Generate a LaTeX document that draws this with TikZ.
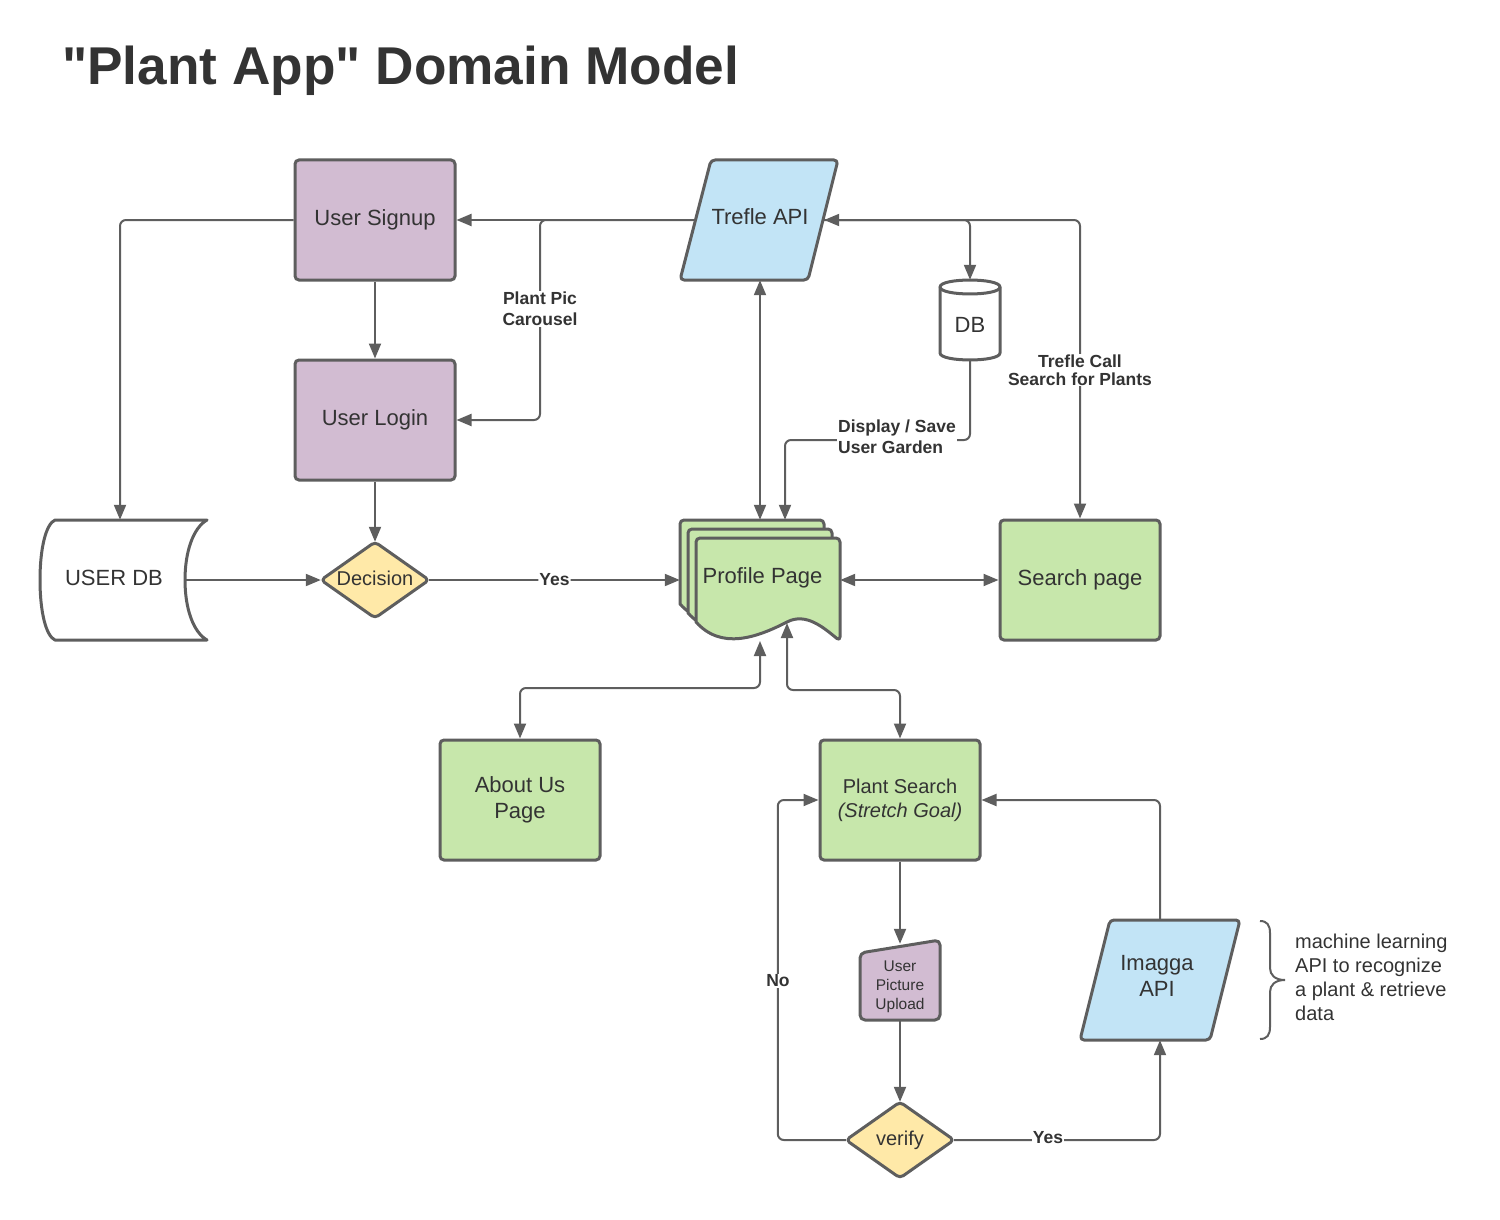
\documentclass[tikz,border=0pt]{standalone}
\usepackage{fontspec}
\setmainfont{Liberation Sans}
\usetikzlibrary{arrows.meta,calc}
\definecolor{edge}{HTML}{5E5E5E}
\definecolor{ink}{HTML}{333333}
\definecolor{purp}{HTML}{D2BCD2}
\definecolor{blu}{HTML}{C2E4F6}
\definecolor{grn}{HTML}{C7E7AB}
\definecolor{yel}{HTML}{FFE9A8}
\newcommand\straightquote{\XeTeXglyph\XeTeXcharglyph"22\relax}
\newcommand\nudge[2]{\raisebox{#1}[\height][\depth]{#2}}
\newcommand\docsheet[2]{%
  \path[shapeline,fill=grn] (#1,#2+84) -- (#1,#2) -- (#1+144,#2) -- (#1+144,#2+103)
   [rounded corners=0pt] .. controls (#1+128,#2+90) and (#1+110,#2+74) .. (#1+91,#2+84)
   .. controls (#1+60,#2+100) and (#1+25,#2+112) .. (#1,#2+84) -- cycle;}
\begin{document}
\begin{tikzpicture}[x=1pt,y=-1pt,
  box/.style={draw=edge,line width=3pt,rounded corners=4pt,minimum width=160pt,minimum height=120pt,inner sep=0pt,align=center,text=ink,font=\fontsize{22}{26}\selectfont},
  anchorbox/.style={inner sep=0pt,align=center,text=ink,font=\fontsize{22}{26}\selectfont},
  shapeline/.style={draw=edge,line width=3pt,rounded corners=4pt,line join=round},
  conn/.style={draw=edge,line width=2pt,rounded corners=6pt,-{Triangle[length=15pt,width=12pt]}},
  conn2/.style={draw=edge,line width=2pt,rounded corners=6pt,{Triangle[length=15pt,width=12pt]}-{Triangle[length=15pt,width=12pt]}},
  lbl/.style={fill=white,inner sep=1pt,text=ink,font=\bfseries\fontsize{17.5}{21}\selectfont,align=center},
]
\useasboundingbox (0,0) rectangle (1500,1220);

% title
\node[anchor=base west,inner sep=0pt,text=ink,font=\bfseries\fontsize{53.2}{60}\selectfont] (title) at (62,85) {\straightquote Plant App\straightquote{} Domain Model};

% custom shape outlines
\path[shapeline,fill=blu] (711,160) -- (838,160) -- (808,280) -- (680,280) -- cycle;
\path[shapeline,fill=blu] (1110,920) -- (1240,920) -- (1210,1040) -- (1080,1040) -- cycle;
\path[shapeline,fill=purp,rounded corners=5pt] (860,953) -- (940,940) -- (940,1020) -- (860,1020) -- cycle;
\path[shapeline,fill=yel] (321,580) -- (375,542) -- (429,580) -- (375,618) -- cycle;
\path[shapeline,fill=yel] (846,1140) -- (900,1102) -- (954,1140) -- (900,1178) -- cycle;
\path[shapeline,fill=white,rounded corners=0pt] (55,520) -- (207,520)
  .. controls (193,528) and (185,552) .. (185,580)
  .. controls (185,608) and (193,632) .. (207,640) -- (55,640)
  .. controls (46,636) and (40,612) .. (40,580)
  .. controls (40,548) and (46,524) .. (55,520) -- cycle;
\path[shapeline,fill=white,rounded corners=0pt] (940,287) -- (940,353)
  .. controls (940,362.3) and (1000,362.3) .. (1000,353) -- (1000,287)
  .. controls (1000,277.7) and (940,277.7) .. (940,287) -- cycle;
\path[shapeline,rounded corners=0pt] (940,287) .. controls (940,296.3) and (1000,296.3) .. (1000,287);
\docsheet{680}{520}
\docsheet{688}{529}
\docsheet{696}{538}

% nodes
\node[box,fill=purp] (signup) at (375,220) {User Signup};
\node[box,fill=purp] (login) at (375,420) {User Login};
\node[anchorbox,minimum width=128pt,minimum height=120pt] (trefle) at (760,220) {\nudge{3pt}{Trefle API}};
\node[anchorbox,minimum width=60pt,minimum height=80pt] (db) at (970,320) {\nudge{-5pt}{DB}};
\node[anchorbox,minimum width=130pt,minimum height=120pt] (usrdb) at (120,580) {\nudge{2pt}{\hspace*{-12pt}USER DB}};
\node[anchorbox,font=\fontsize{20}{24}\selectfont,minimum width=108pt,minimum height=76pt] (dec) at (375,580) {\nudge{2pt}{Decision}};
\node[anchorbox,minimum width=160pt,minimum height=120pt] (prof) at (760,580) {\nudge{2pt}{\hspace*{5pt}Profile Page}};
\node[box,fill=grn] (search) at (1080,580) {Search page};
\node[box,fill=grn] (about) at (520,800) {About Us\\Page};
\node[box,fill=grn,font=\fontsize{20}{24}\selectfont] (ps) at (900,800) {Plant Search\\\textit{(Stretch Goal)}};
\node[anchorbox,minimum width=80pt,minimum height=76pt] (upl) at (900,982) {};
\node[anchorbox,font=\fontsize{15.5}{19}\selectfont] (upltxt) at (900,987) {User\\Picture\\Upload};
\node[anchorbox,font=\fontsize{20}{24}\selectfont,minimum width=108pt,minimum height=76pt] (ver) at (900,1140) {verify};
\node[anchorbox,minimum width=130pt,minimum height=120pt] (imagga) at (1160,980) {};
\node[anchorbox] (imaggatxt) at (1157,976) {Imagga\\API};

% helper coordinates
\coordinate (pb1) at (760,641);
\coordinate (pb2) at (787,623);
\coordinate (cj1) at (540,220);
\coordinate (k1) at (785,440);

% connectors
\draw[conn] (signup.west) -| (usrdb.north);
\draw[conn] (signup.south) -- (login.north);
\draw[conn] (login.south) -- (dec.north);
\draw[conn] (usrdb.east) -- (dec.west);
\draw[conn] (dec.east) -- node[lbl]{Yes} (prof.west);
\draw[conn] (trefle.west) -- (signup.east);
\draw[conn] (trefle.west) -- (cj1) |- (login.east);
\draw[conn2] (trefle.south) -- (prof.north);
\draw[conn2] (search.north) |- (trefle.east);
\draw[conn] (trefle.east) -| (db.north);
\draw[conn] (db.south) |- (k1) -- (k1 |- prof.north);
\draw[conn2] (prof.east) -- (search.west);
\draw[conn2] (pb1) -- ++(0,47) -| (about.north);
\draw[conn2] (pb2) -- ++(0,67) -| (ps.north);
\draw[conn] (ps.south) -- (upl.north);
\draw[conn] (upl.south) -- (ver.north);
\draw[conn] (ver.west) -- ++(-68,0) |- (ps.west);
\draw[conn] (ver.east) -| (imagga.south);
\draw[conn] (imagga.north) |- (ps.east);

% labels
\node[lbl] (lpic) at (540,309) {Plant Pic\\Carousel};
\node[lbl,font=\bfseries\fontsize{17.5}{18}\selectfont] (ltrefle) at (1080,370) {Trefle Call\\Search for Plants};
\node[lbl,align=left] (lgarden) at (897,437) {Display / Save\\User Garden};
\node[lbl] (lno) at (778,981) {No};
\node[lbl] (lyes2) at (1048,1138) {Yes};

% brace and note
\draw[draw=edge,line width=2pt] (1260,921) .. controls (1267,921) and (1270,925) .. (1270,933) -- (1270,968)
  .. controls (1270,975) and (1275,980) .. (1285,980)
  .. controls (1275,980) and (1270,985) .. (1270,992) -- (1270,1027)
  .. controls (1270,1035) and (1267,1039) .. (1260,1039);
\node[anchor=west,align=left,text=ink,font=\fontsize{20}{24}\selectfont,inner sep=0pt] (note) at (1295,977) {machine learning\\API to recognize\\a plant \& retrieve\\data};
\end{tikzpicture}
\end{document}
